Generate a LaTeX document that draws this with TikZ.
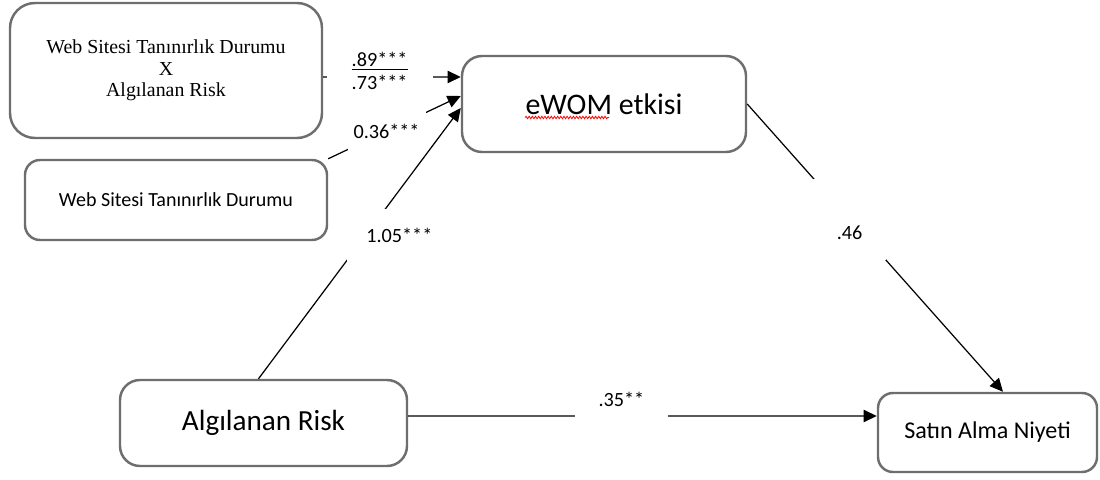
\documentclass[tikz,border=0pt]{standalone}
\usepackage{fontspec}
\setmainfont{Carlito}
\newfontfamily\timesfont{Liberation Serif}
\usepackage{tikz}
\usetikzlibrary{arrows.meta, decorations.pathmorphing}

\begin{document}
\begin{tikzpicture}[
    construct/.style={rectangle, draw=black!57, line width=1.4pt, rounded corners=0.4cm, fill=white, align=center},
    coef/.style={fill=white, align=center, font=\fontsize{11.5}{13}\selectfont},
    effect/.style={->, line width=0.7pt},
    spellwave/.style={red, line width=0.45pt, decorate, decoration={snake, segment length=1.8pt, amplitude=0.7pt}},
    >={Triangle[length=7.5pt, width=7pt]},
]
\useasboundingbox (0,0) rectangle (22,9.58);

% Constructs
\node[construct, minimum width=6.24cm, minimum height=2.70cm, rounded corners=0.5cm,
      font=\timesfont\fontsize{11.3}{12.2}\selectfont] (inter) at (3.32,8.17)
      {Web Sitesi Tanınırlık Durumu\\X\\Algılanan Risk};
\node[construct, minimum width=6.04cm, minimum height=1.6cm, rounded corners=0.3cm,
      font=\fontsize{11.4}{13}\selectfont] (site) at (3.52,5.58) {Web Sitesi Tanınırlık Durumu};
\node[construct, minimum width=5.68cm, minimum height=1.92cm,
      font=\fontsize{17}{20}\selectfont] (ewom) at (12.08,7.50) {eWOM etkisi};
\node[construct, minimum width=5.74cm, minimum height=1.72cm,
      font=\fontsize{16.6}{20}\selectfont] (risk) at (5.27,1.12) {Algılanan Risk};
\node[construct, minimum width=4.38cm, minimum height=1.58cm, rounded corners=0.3cm,
      font=\fontsize{13.7}{16}\selectfont] (intent) at (19.75,0.93) {Satın Alma Niyeti};

% spell-check mark under "eWOM"
\draw[spellwave] ([xshift=-1.58cm, yshift=-0.27cm]ewom.center) -- ([xshift=0.1cm, yshift=-0.27cm]ewom.center);

% Paths into eWOM
\draw[effect] ([yshift=-0.13cm]inter.east) -- node[coef, pos=0.41, yshift=0.12cm, minimum width=2.12cm]
      {\underline{.89***}\\.73***} ([yshift=0.54cm]ewom.west);
\draw[effect] ([xshift=-0.1cm]risk.north) -- node[coef, pos=0.53, anchor=west, xshift=-0.38cm,
      inner xsep=0.38cm, minimum height=1.04cm] {1.05***} ([yshift=-0.08cm]ewom.west);
\draw[effect] (site.north east) -- node[coef, pos=0.44, minimum width=1.56cm, minimum height=0.8cm]
      {0.36***} ([yshift=0.16cm]ewom.west);

% Paths into purchase intention
\draw[effect] (ewom.east) -- node[coef, pos=0.40, inner xsep=0.47cm, inner ysep=0.41cm,
      text height=0.8cm, text depth=0pt] {.46} ([xshift=0.31cm]intent.north);
\draw[effect] ([yshift=0.14cm]risk.east) -- node[coef, pos=0.455, anchor=south, yshift=-0.07cm,
      minimum width=1.86cm, inner ysep=0.25cm] {.35**} ([yshift=0.33cm]intent.west);

\end{tikzpicture}
\end{document}
